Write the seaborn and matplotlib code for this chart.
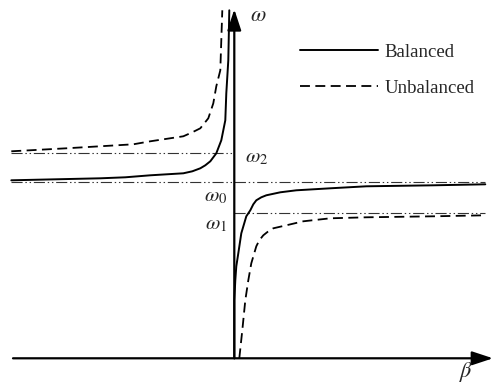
import matplotlib
matplotlib.use("Agg")
import matplotlib.pyplot as plt
import seaborn as sns
import pandas as pd
from matplotlib.lines import Line2D

sns.set_theme(style="white")
plt.rcParams['font.family'] = ['Liberation Serif', 'DejaVu Serif']
plt.rcParams['mathtext.fontset'] = 'stix'

# ---- data (beta, omega) ----
bal_left_beta = [-2.23, -1.34, -1.09, -0.84, -0.51, -0.42, -0.34, -0.29, -0.24, -0.18, -0.13, -0.09, -0.08, -0.06, -0.05]
bal_left_omega = [1.78, 1.80, 1.81, 1.83, 1.85, 1.87, 1.90, 1.93, 1.97, 2.05, 2.18, 2.38, 2.65, 2.98, 3.48]

bal_right_beta = [0.00, 0.00, 0.01, 0.02, 0.04, 0.07, 0.12, 0.16, 0.19, 0.22, 0.27, 0.32, 0.46, 0.62, 0.96, 1.32, 1.99, 2.51]
bal_right_omega = [0.00, 0.58, 0.78, 0.92, 1.05, 1.25, 1.42, 1.48, 1.54, 1.58, 1.61, 1.63, 1.66, 1.68, 1.70, 1.72, 1.73, 1.74]

unb_left_beta = [-2.23, -1.68, -1.01, -0.84, -0.51, -0.42, -0.34, -0.26, -0.21, -0.18, -0.14, -0.13, -0.12]
unb_left_omega = [2.07, 2.10, 2.14, 2.17, 2.22, 2.26, 2.30, 2.40, 2.55, 2.72, 2.88, 3.18, 3.48]

unb_right_beta = [0.05, 0.08, 0.11, 0.14, 0.17, 0.22, 0.25, 0.29, 0.34, 0.39, 0.52, 0.69, 0.96, 1.32, 1.99, 2.51]
unb_right_omega = [0.00, 0.28, 0.58, 0.78, 0.95, 1.12, 1.18, 1.23, 1.27, 1.30, 1.33, 1.37, 1.40, 1.41, 1.42, 1.43]

level_names = [r'$\omega_2$', r'$\omega_0$', r'$\omega_1$']
level_values = [2.05, 1.76, 1.45]
level_beta_from = [-2.23, -2.23, 0.0]
level_beta_to = [0.0, 2.51, 2.51]

legend_labels = ['Balanced', 'Unbalanced']

# ---- figure ----
fig = plt.figure(figsize=(4.93, 3.83), dpi=100)
ax = fig.add_axes([0, 0, 1, 1])
ax.set_xlim(-2.343, 2.587)
ax.set_ylim(-0.247, 3.583)
ax.set_axis_off()

solid_kw = dict(color='black', lw=1.4, sort=False, estimator=None, ax=ax, legend=False)
dash_kw = dict(color='black', lw=1.3, sort=False, estimator=None, ax=ax, legend=False,
               linestyle=(0, (5.5, 3.0)))

# reference levels (dash-dot-dot)
for v, b0, b1 in zip(level_values, level_beta_from, level_beta_to):
    ax.plot([b0, b1], [v, v], color='#333333', lw=0.8,
            linestyle=(0, (10, 2.5, 1.3, 2.5, 1.3, 2.5)))

sns.lineplot(x=bal_left_beta, y=bal_left_omega, **solid_kw)
sns.lineplot(x=bal_right_beta, y=bal_right_omega, **solid_kw)
sns.lineplot(x=unb_left_beta, y=unb_left_omega, **dash_kw)
sns.lineplot(x=unb_right_beta, y=unb_right_omega, **dash_kw)

# axes with arrows
arrow = dict(arrowstyle='-|>,head_length=0.85,head_width=0.28', mutation_scale=15,
             lw=1.6, color='black', shrinkA=0, shrinkB=0)
ax.annotate('', xy=(2.587, 0.0), xytext=(-2.213, 0.0), arrowprops=arrow, annotation_clip=False)
ax.annotate('', xy=(0.0, 3.49), xytext=(0.0, 0.0), arrowprops=arrow, annotation_clip=False)

# axis labels
ax.text(0.16, 3.42, r'$\omega$', fontsize=16, ha='left', va='center')
ax.text(2.32, -0.14, r'$\beta$', fontsize=16, ha='center', va='center')

# level labels
ax.text(0.11, 2.01, level_names[0], fontsize=15, ha='left', va='center')
ax.text(-0.07, 1.61, level_names[1], fontsize=15, ha='right', va='center')
ax.text(-0.07, 1.33, level_names[2], fontsize=15, ha='right', va='center')

handles = [Line2D([], [], color='black', lw=1.4),
           Line2D([], [], color='black', lw=1.3, linestyle=(0, (5.5, 3.0)))]
ax.legend(handles, legend_labels, loc='upper left', bbox_to_anchor=(0.6085, 0.886),
          frameon=False, fontsize=13.5, handlelength=4.15, handletextpad=0.37,
          labelspacing=1.0, borderpad=0, borderaxespad=0)

fig.savefig('out.png', dpi=100)
